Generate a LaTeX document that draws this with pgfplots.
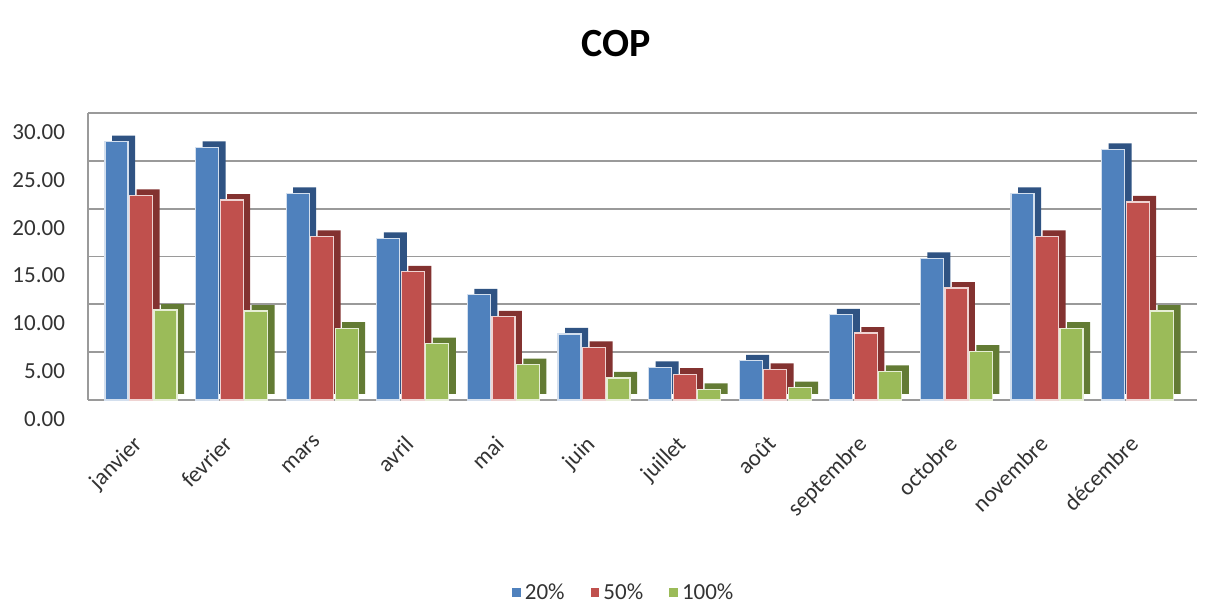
\documentclass[border=0pt]{standalone}
\usepackage{fontspec}
\setmainfont{Carlito}
\usepackage{pgfplots}
\usepackage{pgfplotstable}
\pgfplotsset{compat=1.18}

\definecolor{cBlue}{HTML}{4F81BD}
\definecolor{cBlueD}{HTML}{2F5383}
\definecolor{cRed}{HTML}{C0504D}
\definecolor{cRedD}{HTML}{833230}
\definecolor{cGreen}{HTML}{9BBB59}
\definecolor{cGreenD}{HTML}{637B34}
\definecolor{gridc}{HTML}{9A9A9A}
\definecolor{txt}{HTML}{333333}

% COP per month, one table per load level (month index 0 = janvier)
\pgfplotstableread{
m v
0 27.0
1 26.4
2 21.6
3 16.9
4 11.0
5 6.9
6 3.4
7 4.1
8 8.9
9 14.8
10 21.6
11 26.2
}\copA
\pgfplotstableread{
m v
0 21.4
1 20.9
2 17.1
3 13.4
4 8.7
5 5.5
6 2.7
7 3.2
8 7.0
9 11.7
10 17.1
11 20.7
}\copB
\pgfplotstableread{
m v
0 9.4
1 9.3
2 7.5
3 5.9
4 3.7
5 2.3
6 1.1
7 1.3
8 3.0
9 5.1
10 7.5
11 9.3
}\copC

\begin{document}
\begin{tikzpicture}
\path[use as bounding box, fill=white] (0pt,0pt) rectangle (609pt,302pt);

\node[font=\fontsize{20}{24}\selectfont\bfseries, text=black] at (308pt,280pt) {COP};

\begin{axis}[
  at={(44pt,102pt)}, anchor=south west,
  scale only axis,
  width=554.5pt, height=143.5pt,
  xmin=-0.585, xmax=11.655,
  ymin=0, ymax=30,
  ytick={0,5,...,30},
  xtick={0,...,11},
  xticklabels={janvier,fevrier,mars,avril,mai,juin,juillet,août,septembre,octobre,novembre,décembre},
  ybar, bar width=11.5pt,
  major tick length=0pt,
  axis x line*=bottom,
  x axis line style={draw=none},
  axis y line*=left,
  y axis line style={gridc, line width=0.8pt, -},
  ymajorgrids,
  grid style={gridc, line width=0.9pt},
  /pgf/number format/assume math mode=true,
  yticklabel style={/pgf/number format/fixed, /pgf/number format/fixed zerofill,
    /pgf/number format/precision=2, font=\fontsize{11.5}{13}\selectfont, text=txt,
    yshift=-9.5pt, xshift=-8pt},
  xticklabel style={rotate=45, anchor=north east, font=\fontsize{11.5}{13}\selectfont,
    text=txt, yshift=-5.4pt, xshift=-11.9pt},
  legend columns=3,
  legend style={at={(0.484,-0.672)}, anchor=center, draw=none, fill=none,
    font=\fontsize{11.5}{13}\selectfont, text=txt,
    /tikz/every even column/.append style={column sep=11pt},
    inner sep=0pt},
  legend image code/.code={\path[#1, draw=none] (0pt,-2.2pt) rectangle (4.4pt,2.2pt);},
  clip=false,
]
% each series: a dark offset copy for the side and top, then the front face
\addplot[fill=cBlueD, draw=none, bar shift=-12.25pt, xshift=3.5pt, yshift=3pt, forget plot] table[x=m, y=v] {\copA};
\addplot[fill=cBlue, draw=white!75!cBlue, line width=0.6pt, bar shift=-12.25pt] table[x=m, y=v] {\copA};
\addplot[fill=cRedD, draw=none, bar shift=0pt, xshift=3.5pt, yshift=3pt, forget plot] table[x=m, y=v] {\copB};
\addplot[fill=cRed, draw=white!75!cRed, line width=0.6pt, bar shift=0pt] table[x=m, y=v] {\copB};
\addplot[fill=cGreenD, draw=none, bar shift=12.25pt, xshift=3.5pt, yshift=3pt, forget plot] table[x=m, y=v] {\copC};
\addplot[fill=cGreen, draw=white!75!cGreen, line width=0.6pt, bar shift=12.25pt] table[x=m, y=v] {\copC};
\legend{20\%, 50\%, 100\%}
\end{axis}
\end{tikzpicture}
\end{document}
